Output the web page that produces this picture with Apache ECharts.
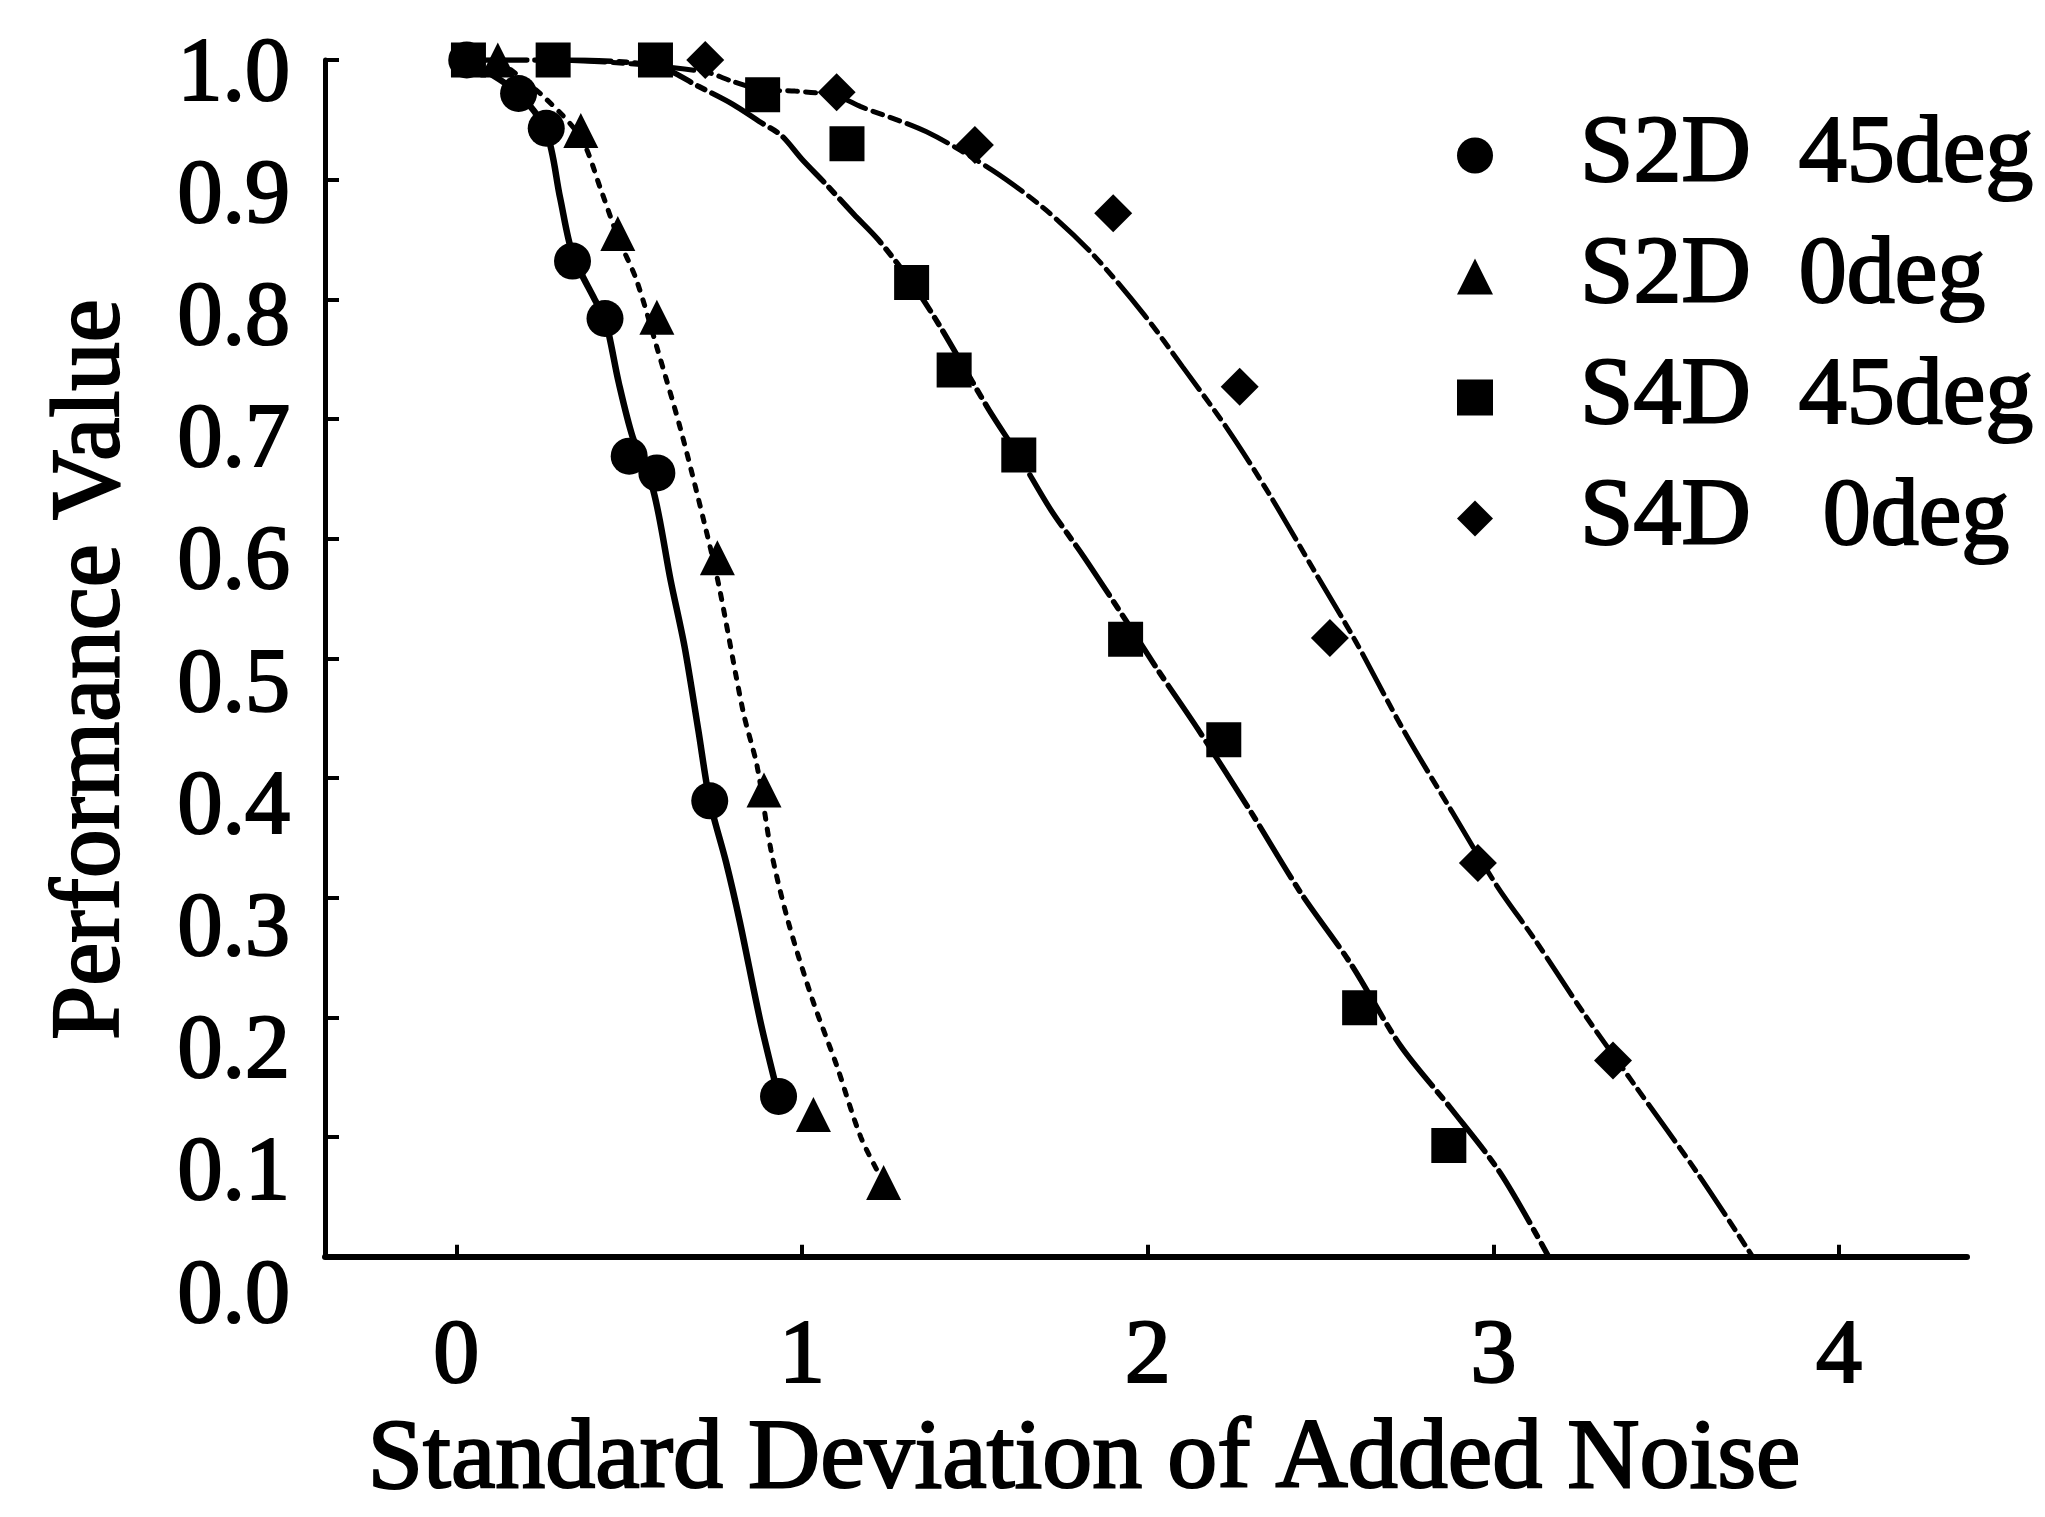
<!DOCTYPE html>
<html>
<head>
<meta charset="utf-8">
<script src="https://cdn.jsdelivr.net/npm/echarts@6/dist/echarts.min.js"></script>
<style>
  html, body { margin: 0; padding: 0; background: #ffffff; }
  #chart { width: 2045px; height: 1517px; }
</style>
</head>
<body>
<div id="chart"></div>
<script>
// ---- axis ticks ----
const xTickValues = [0, 1, 2, 3, 4];
const yTickStep = 0.1;

// ---- measured performance values: [noise std, performance] ----
const s2d45Points = [[0.03, 1.0], [0.18, 0.972], [0.26, 0.943], [0.336, 0.832], [0.43, 0.784],
  [0.50, 0.669], [0.58, 0.655], [0.733, 0.381], [0.932, 0.134]];
const s2d0Points = [[0.12, 1.0], [0.36, 0.941], [0.467, 0.855], [0.58, 0.785], [0.755, 0.584],
  [0.89, 0.39], [1.033, 0.119], [1.236, 0.062]];
const s4d45Points = [[0.035, 1.0], [0.28, 1.0], [0.576, 1.0], [0.886, 0.971], [1.13, 0.93],
  [1.317, 0.814], [1.44, 0.741], [1.627, 0.67], [1.936, 0.516], [2.22, 0.432], [2.613, 0.208], [2.871, 0.093]];
const s4d0Points = [[0.72, 1.0], [1.10, 0.973], [1.50, 0.929], [1.90, 0.872], [2.266, 0.727],
  [2.527, 0.517], [2.955, 0.329], [3.346, 0.164]];

// ---- fitted curves ----
const s2d45Fit = [[0.03, 1.0], [0.18, 0.972], [0.26, 0.94], [0.30, 0.885], [0.336, 0.838], [0.40, 0.80],
  [0.43, 0.784], [0.47, 0.73], [0.51, 0.685], [0.57, 0.64], [0.62, 0.565], [0.66, 0.51], [0.70, 0.44],
  [0.733, 0.381], [0.78, 0.33], [0.82, 0.28], [0.88, 0.196], [0.932, 0.134]];
const s2d0Fit = [[0.12, 1.0], [0.25, 0.97], [0.36, 0.935], [0.42, 0.89], [0.47, 0.85], [0.52, 0.817],
  [0.58, 0.76], [0.65, 0.69], [0.72, 0.61], [0.76, 0.56], [0.83, 0.455], [0.87, 0.41], [0.91, 0.34],
  [0.96, 0.28], [1.03, 0.215], [1.10, 0.16], [1.17, 0.10], [1.236, 0.062]];
const s4d45Fit = [[0.03, 1.0], [0.28, 1.0], [0.58, 0.995], [0.70, 0.978], [0.80, 0.963], [0.88, 0.948],
  [0.94, 0.937], [1.00, 0.917], [1.07, 0.896], [1.15, 0.871], [1.22, 0.85], [1.317, 0.814],
  [1.40, 0.777], [1.54, 0.708], [1.627, 0.669], [1.72, 0.624], [1.815, 0.585],
  [1.936, 0.532], [2.03, 0.49], [2.145, 0.441], [2.298, 0.372],
  [2.443, 0.304], [2.587, 0.245], [2.732, 0.176], [2.877, 0.124], [3.02, 0.07], [3.16, 0.0]];
const s4d0Fit = [[0.30, 1.0], [0.50, 0.997], [0.72, 0.99], [0.80, 0.982], [0.886, 0.975], [0.98, 0.974],
  [1.10, 0.97], [1.17, 0.961], [1.36, 0.94], [1.55, 0.908], [1.70, 0.876], [1.84, 0.838], [1.99, 0.787],
  [2.10, 0.744], [2.23, 0.692], [2.35, 0.638], [2.48, 0.574], [2.60, 0.515], [2.74, 0.44], [2.88, 0.372],
  [3.01, 0.31], [3.12, 0.265], [3.26, 0.204], [3.40, 0.147], [3.59, 0.07], [3.75, 0.0]];

const seriesNames = ['S2D  45deg', 'S2D  0deg', 'S4D  45deg', 'S4D   0deg'];

const serif = "'Liberation Serif', 'Times New Roman', serif";
const ink = '#000000';
const textInk = { color: ink, fontFamily: serif, textBorderColor: ink, textBorderWidth: 2.2 };

// plot area, plus a copy nudged down that carries the y tick labels
const plotBox = { left: 325, top: 60, right: 78, bottom: 235 };
const yLabelDrop = 16;

function fitLine(name, data, width, type) {
  return {
    name: name, type: 'line', data: data, smooth: 0.3,
    showSymbol: false, symbol: 'none', silent: true,
    lineStyle: { color: ink, width: width, type: type, cap: 'round' },
    z: 2
  };
}
function markers(name, data, symbol, size) {
  return {
    name: name, type: 'scatter', data: data, symbol: symbol, symbolSize: size,
    itemStyle: { color: ink, opacity: 1 }, z: 5
  };
}

const chart = echarts.init(document.getElementById('chart'), null, { renderer: 'canvas' });
chart.setOption({
  backgroundColor: '#ffffff',
  animation: false,
  grid: [
    Object.assign({ containLabel: false }, plotBox),
    { left: plotBox.left, right: plotBox.right, top: plotBox.top + yLabelDrop,
      bottom: plotBox.bottom - yLabelDrop, containLabel: false }
  ],
  legend: {
    data: seriesNames,
    orient: 'vertical',
    left: 1452, top: 100,
    itemWidth: 36, itemHeight: 36, itemGap: 20,
    textStyle: Object.assign({ fontSize: 96, lineHeight: 101, padding: [0, 0, 0, 82] }, textInk),
    selectedMode: false
  },
  xAxis: [{
    type: 'value', min: -0.38, max: 4.37,
    name: 'Standard Deviation of Added Noise',
    nameLocation: 'middle', nameGap: 124,
    nameTextStyle: Object.assign({ fontSize: 100, padding: [0, 124, 0, 0] }, textInk),
    axisLine: { show: true, onZero: false, lineStyle: { color: ink, width: 6 } },
    axisTick: { show: true, inside: true, length: 12, customValues: xTickValues, lineStyle: { color: ink, width: 4 } },
    axisLabel: Object.assign({ fontSize: 92, margin: 55, customValues: xTickValues,
      formatter: v => String(v) }, textInk),
    splitLine: { show: false }
  }, {
    gridIndex: 1, type: 'value', min: -0.38, max: 4.37, show: false
  }],
  yAxis: [{
    type: 'value', min: 0, max: 1.0, interval: yTickStep,
    name: 'Performance Value',
    nameLocation: 'middle', nameGap: 184,
    nameTextStyle: Object.assign({ fontSize: 97, padding: [0, 22, 0, 0] }, textInk),
    axisLine: { show: true, onZero: false, lineStyle: { color: ink, width: 5 } },
    axisTick: { show: true, inside: true, length: 14, lineStyle: { color: ink, width: 4 } },
    axisLabel: { show: false },
    splitLine: { show: false }
  }, {
    gridIndex: 1, type: 'value', min: 0, max: 1.0, interval: yTickStep,
    axisLine: { show: false, onZero: false },
    axisTick: { show: false },
    axisLabel: Object.assign({ fontSize: 90, margin: 35, formatter: v => v.toFixed(1) }, textInk),
    splitLine: { show: false }
  }],
  series: [
    fitLine('S2D 45deg fit', s2d45Fit, 6.5, 'solid'),
    fitLine('S2D 0deg fit', s2d0Fit, 5, [6, 10]),
    fitLine('S4D 45deg fit', s4d45Fit, 5.5, [60, 8, 8, 8]),
    fitLine('S4D 0deg fit', s4d0Fit, 5, [45, 8, 10, 8, 10, 8]),
    markers(seriesNames[0], s2d45Points, 'circle', 37),
    markers(seriesNames[1], s2d0Points, 'triangle', 35),
    markers(seriesNames[2], s4d45Points, 'rect', 35),
    markers(seriesNames[3], s4d0Points, 'diamond', 38)
  ]
});
</script>
</body>
</html>
